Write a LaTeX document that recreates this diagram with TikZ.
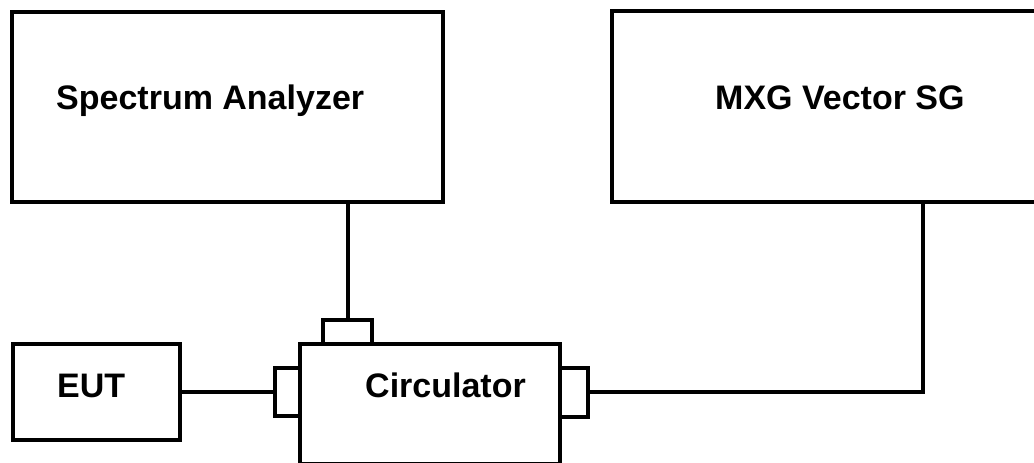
\documentclass[tikz,border=0pt]{standalone}
\usepackage{fontspec}
\setmainfont{Liberation Sans}
\begin{document}
\begin{tikzpicture}[x=1pt,y=-1pt,
  box/.style={draw=black, line width=4pt, fill=white, rectangle, inner sep=0pt, anchor=center},
  lbl/.style={anchor=base west, inner sep=0pt, font=\fontsize{34}{40}\selectfont\bfseries},
  wire/.style={draw=black, line width=4pt}]
\useasboundingbox (0,0) rectangle (1034,463);
\node[box, minimum width=431pt, minimum height=190pt] (sa) at (227.5,107) {};
\node[box, minimum width=433pt, minimum height=191pt] (mxg) at (828.5,106.5) {};
\node[box, minimum width=167pt, minimum height=96pt] (eut) at (96,392) {};
\node[box, minimum width=260pt, minimum height=120pt] (circ) at (430,404) {};
\node[box, minimum width=49pt, minimum height=24pt] (topport) at (347.5,332) {};
\node[box, minimum width=25pt, minimum height=48pt] (leftport) at (287.5,392) {};
\node[box, minimum width=28pt, minimum height=49pt] (rightport) at (574,392) {};
\node[lbl] (salbl) at (56,109) {Spectrum Analyzer};
\node[lbl] (mxglbl) at (715,109) {MXG Vector SG};
\node[lbl] (eutlbl) at (57,397) {EUT};
\node[lbl] (circlbl) at (365,397) {Circulator};
\coordinate (bend) at (923,392);
\draw[wire] (topport.north) -- (topport.north |- sa.south);
\draw[wire] (eut.east) -- (leftport.west);
\draw[wire] (rightport.east) -- (bend) -- (bend |- mxg.south);
\end{tikzpicture}
\end{document}
